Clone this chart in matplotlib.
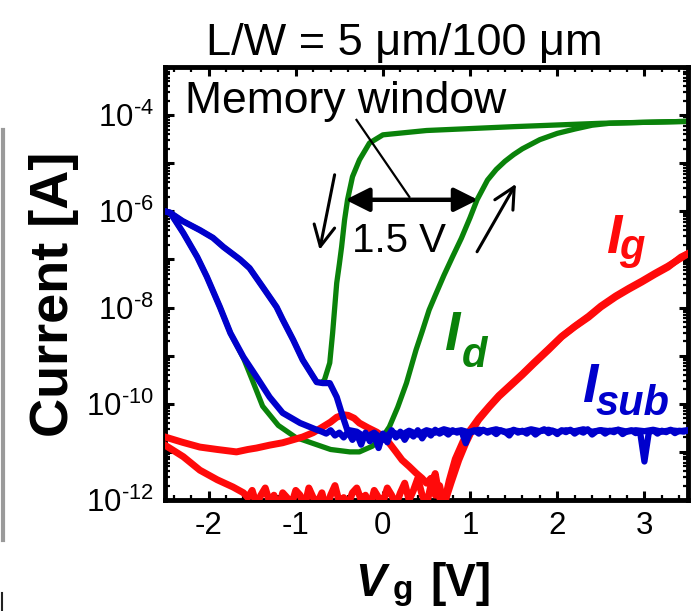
import numpy as np
import matplotlib
matplotlib.use('Agg')
import matplotlib.pyplot as plt
from matplotlib.ticker import FixedLocator, MultipleLocator, LogLocator, FuncFormatter, NullFormatter
from matplotlib.lines import Line2D

plt.rcParams['font.family'] = ['Liberation Sans', 'DejaVu Sans']
plt.rcParams['mathtext.fontset'] = 'custom'
plt.rcParams['mathtext.rm'] = 'Liberation Sans'
plt.rcParams['mathtext.it'] = 'Liberation Sans:italic'
plt.rcParams['mathtext.bf'] = 'Liberation Sans:bold'
plt.rcParams['axes.unicode_minus'] = False

# ---------------- data (log10 of current in A) ----------------
# Drain current, forward sweep (right branch)
vg_id_fwd = [-2.5, -2.44, -2.29, -2.13, -2.02, -1.87, -1.75, -1.6, -1.5, -1.38, -1.2, -1.0,
             -0.84, -0.6, -0.38, -0.27, -0.12, 0.0, 0.074, 0.17, 0.27, 0.38, 0.45, 0.53,
             0.6, 0.7, 0.8, 0.9, 1.0, 1.08, 1.2, 1.3, 1.4, 1.5, 1.6, 1.8, 2.0, 2.2, 2.4,
             2.6, 3.0, 3.5]
log_id_fwd = [-6.0, -6.03, -6.45, -6.95, -7.36, -7.99, -8.53, -9.05, -9.5, -10.05, -10.45, -10.7,
              -10.8, -10.95, -11.0, -11.0, -10.88, -10.68, -10.48, -10.07, -9.57, -8.88, -8.5, -8.05,
              -7.75, -7.33, -6.94, -6.56, -6.13, -5.76, -5.35, -5.13, -4.96, -4.82, -4.7, -4.51, -4.38,
              -4.29, -4.21, -4.17, -4.15, -4.13]

# Drain current, reverse sweep (left branch, down to the kink)
vg_id_rev = [3.5, 2.5, 1.5, 0.5, 0.0, -0.154, -0.269, -0.349, -0.406, -0.44, -0.474, -0.5,
             -0.53, -0.577, -0.61, -0.67, -0.7]
log_id_rev = [-4.13, -4.17, -4.24, -4.32, -4.41, -4.58, -4.93, -5.28, -5.76, -6.18, -6.74, -7.1,
              -7.49, -8.53, -9.15, -9.5, -9.56]

# Substrate current, upper branch (reverse)
vg_isub_rev = [-2.5, -2.44, -2.3, -2.1, -1.95, -1.83, -1.64, -1.53, -1.38, -1.22, -1.15, -1.03,
               -0.92, -0.76, -0.69, -0.61, -0.53, -0.46, -0.41,
               -0.3, -0.2, -0.1, 0.0, 0.1, 0.2, 0.3, 0.4, 0.5, 0.6, 0.7, 0.8, 0.9, 1.0, 1.1,
               1.2, 1.3, 1.4, 1.5, 1.6, 1.7, 1.8, 1.9, 2.0, 2.1, 2.2, 2.3, 2.4, 2.5, 2.6,
               2.7, 2.8, 2.9, 3.0, 3.1, 3.2, 3.3, 3.4, 3.5]
log_isub_rev = [-6.0, -6.03, -6.2, -6.39, -6.55, -6.74, -7.0, -7.18, -7.57, -7.99, -8.25, -8.67,
                -9.09, -9.55, -9.57, -9.57, -9.86, -10.27, -10.54,
                -10.58, -10.70, -10.60, -10.75, -10.58, -10.66, -10.56, -10.64, -10.55, -10.60,
                -10.53, -10.58, -10.55, -10.60, -10.54, -10.57, -10.53, -10.59, -10.55, -10.58,
                -10.53, -10.57, -10.54, -10.59, -10.55, -10.57, -10.53, -10.58, -10.55, -10.57,
                -10.54, -10.58, -10.55, -10.57, -10.54, -10.58, -10.55, -10.57, -10.55]

# Substrate current, lower branch (forward)
vg_isub_fwd = [-2.5, -2.44, -2.29, -2.13, -2.02, -1.87, -1.75, -1.6, -1.45, -1.3, -1.15, -0.95,
               -0.76,
               -0.70, -0.65, -0.60, -0.55, -0.50, -0.45, -0.40, -0.35, -0.30, -0.25, -0.20,
               -0.15, -0.10, -0.05, 0.00, 0.05, 0.10, 0.15, 0.20, 0.25, 0.30, 0.35, 0.40,
               0.45, 0.50, 0.55, 0.60, 0.65, 0.70, 0.75, 0.80, 0.85, 0.90, 0.95, 1.00, 1.05,
               1.10, 1.15, 1.20, 1.25, 1.30, 1.35, 1.40, 1.45, 1.50, 1.55, 1.60, 1.65, 1.70,
               1.75, 1.80, 1.85, 1.90, 1.95, 2.00, 2.05, 2.10, 2.15, 2.20, 2.25, 2.30, 2.35,
               2.40, 2.45, 2.50, 2.55, 2.60, 2.65, 2.70, 2.75, 2.80, 2.85, 2.90, 2.95, 3.00,
               3.05, 3.10, 3.15, 3.20, 3.25, 3.30, 3.35, 3.40, 3.45, 3.50]
log_isub_fwd = [-6.0, -6.03, -6.45, -6.95, -7.36, -7.99, -8.53, -9.03, -9.44, -9.86, -10.19, -10.4,
                -10.54,
                -10.58, -10.62, -10.55, -10.66, -10.60, -10.70, -10.58, -10.75, -10.62, -10.85,
                -10.60, -10.78, -10.65, -10.92, -10.62, -10.80, -10.55, -10.70, -10.58, -10.75,
                -10.60, -10.68, -10.55, -10.72, -10.58, -10.66, -10.54, -10.62, -10.57, -10.64,
                -10.55, -10.60, -10.56, -10.82, -10.58, -10.55, -10.62, -10.54, -10.60, -10.56,
                -10.63, -10.55, -10.58, -10.66, -10.54, -10.60, -10.56, -10.62, -10.55, -10.64,
                -10.57, -10.53, -10.61, -10.56, -10.63, -10.55, -10.59, -10.54, -10.62, -10.56,
                -10.60, -10.53, -10.64, -10.57, -10.55, -10.62, -10.56, -10.59, -10.54, -10.63,
                -10.57, -10.55, -10.61, -10.58, -11.20, -10.60, -10.55, -10.62, -10.56, -10.59,
                -10.54, -10.61, -10.56, -10.58, -10.55]

# Gate current, branch with the bump
vg_ig_a = [-2.5, -2.3, -2.1, -1.9, -1.68, -1.55, -1.45, -1.3, -1.15, -0.92, -0.8, -0.69, -0.6,
           -0.53, -0.45, -0.4, -0.33, -0.27, -0.17, -0.07, 0.0, 0.07, 0.15, 0.22, 0.30, 0.38,
           0.45, 0.50, 0.55, 0.60, 0.65, 0.70, 0.78, 0.87, 0.95, 1.02, 1.1, 1.22, 1.33, 1.45,
           1.6, 1.73, 1.9, 2.05, 2.2, 2.36, 2.5, 2.67, 2.82, 2.97, 3.12, 3.27, 3.42, 3.5]
log_ig_a = [-10.69, -10.80, -10.90, -10.95, -11.0, -10.95, -10.92, -10.86, -10.81, -10.69, -10.6,
            -10.48, -10.38, -10.28, -10.23, -10.24, -10.3, -10.4, -10.5, -10.59, -10.68, -10.81,
            -11.0, -11.17, -11.3, -11.44, -11.55, -11.65, -11.55, -11.9, -11.7, -12.1, -11.65,
            -11.17, -10.82, -10.56, -10.33, -10.07, -9.85, -9.65, -9.4, -9.17, -8.88, -8.61,
            -8.4, -8.2, -7.99, -7.78, -7.62, -7.47, -7.31, -7.16, -6.95, -6.88]

# Gate current, noisy lower branch
vg_ig_b = [-2.5, -2.29, -2.1, -1.9, -1.72,
           -1.60, -1.55, -1.50, -1.45, -1.40, -1.35, -1.30, -1.25, -1.20, -1.15, -1.10, -1.05,
           -1.00, -0.95, -0.90, -0.85, -0.80, -0.75, -0.70, -0.65, -0.60, -0.55, -0.50, -0.45,
           -0.40, -0.35, -0.30, -0.25, -0.20, -0.15, -0.10, -0.05, 0.00, 0.05, 0.10, 0.15,
           0.20, 0.25, 0.30, 0.35, 0.40, 0.45, 0.50, 0.55, 0.60, 0.65,
           0.70, 0.76, 0.83, 0.92, 1.0, 1.1, 1.22, 1.33, 1.45, 1.6, 1.73, 1.9, 2.05, 2.2,
           2.36, 2.5, 2.67, 2.82, 2.97, 3.12, 3.27, 3.5]
log_ig_b = [-10.86, -11.1, -11.38, -11.58, -11.73,
            -11.85, -11.95, -11.80, -12.10, -11.90, -11.75, -12.05, -11.90, -12.20, -11.85,
            -11.95, -12.10, -11.80, -11.90, -12.15, -11.75, -11.95, -12.05, -11.85, -12.20,
            -11.90, -11.70, -12.05, -11.95, -12.10, -11.85, -11.75, -12.00, -11.90, -12.15,
            -11.80, -11.95, -12.05, -11.75, -11.90, -12.10, -11.85, -11.65, -12.00, -11.80,
            -11.55, -11.90, -12.10, -11.70, -11.45, -11.95,
            -12.1, -11.6, -11.15, -10.78, -10.55, -10.3, -10.05, -9.83, -9.63, -9.38, -9.15,
            -8.86, -8.6, -8.39, -8.18, -7.97, -7.76, -7.6, -7.45, -7.29, -7.14, -6.88]

# ---------------- figure ----------------
W, H = 691, 611
fig = plt.figure(figsize=(W / 100, H / 100), dpi=100)
ax = fig.add_axes([165 / W, 1 - 500 / H, 523 / W, 433 / H])
ax.set_yscale('log')

GREEN = '#0a820a'
BLUE = '#0000cc'
RED = '#ff0a0a'

# green reverse continues along the upper substrate branch (hidden under blue)
k = vg_isub_rev.index(-0.76)
vg_id_rev_full = vg_id_rev + vg_isub_rev[:k + 1][::-1]
log_id_rev_full = log_id_rev + log_isub_rev[:k + 1][::-1]

ax.plot(vg_id_fwd, 10 ** np.array(log_id_fwd), color=GREEN, lw=3.8, zorder=2, solid_joinstyle='round')
ax.plot(vg_id_rev_full, 10 ** np.array(log_id_rev_full), color=GREEN, lw=3.8, zorder=2, solid_joinstyle='round')
ax.plot(vg_ig_a, 10 ** np.array(log_ig_a), color=RED, lw=5, zorder=3, solid_joinstyle='round')
ax.plot(vg_ig_b, 10 ** np.array(log_ig_b), color=RED, lw=5, zorder=3, solid_joinstyle='round')
ax.plot(vg_isub_rev, 10 ** np.array(log_isub_rev), color=BLUE, lw=4.5, zorder=4, solid_joinstyle='round')
ax.plot(vg_isub_fwd, 10 ** np.array(log_isub_fwd), color=BLUE, lw=4.5, zorder=4, solid_joinstyle='round')

ax.set_xlim(-2.5, 3.5)
ax.set_ylim(1e-12, 1e-3)

ax.xaxis.set_major_locator(MultipleLocator(1))
ax.xaxis.set_minor_locator(MultipleLocator(0.2))
ax.yaxis.set_major_locator(FixedLocator([10.0 ** e for e in range(-12, -2)]))
ax.yaxis.set_minor_locator(LogLocator(base=10, subs=np.arange(2, 10), numticks=30))
ax.yaxis.set_minor_formatter(NullFormatter())


def yfmt(v, pos):
    e = int(round(np.log10(v)))
    if e % 2 == 0 and e <= -4:
        return '$10^{\u2010%d}$' % (-e)
    return ''


ax.yaxis.set_major_formatter(FuncFormatter(yfmt))
ax.tick_params(which='both', direction='in', top=True, right=True)
ax.tick_params(which='major', length=6.5, width=2.2, labelsize=22.5, pad=8)
ax.tick_params(which='minor', length=3.5, width=1.6)
for s in ax.spines.values():
    s.set_linewidth(3.5)

# annotations
ax.text(-2.27, 10 ** -3.95, 'Memory window', fontsize=32, ha='left', va='baseline')
ax.plot([-0.303, 0.303], [10 ** -4.10, 10 ** -5.70], color='k', lw=1.6, zorder=5)
ax.annotate('', xy=(-0.43, 10 ** -5.76), xytext=(1.09, 10 ** -5.76),
            arrowprops=dict(arrowstyle='<|-|>', lw=3.2, color='k', mutation_scale=36,
                            shrinkA=0, shrinkB=0), zorder=6)
ax.text(-0.35, 10 ** -6.84, '1.5 V', fontsize=29, ha='left', va='baseline')
ax.annotate('', xy=(-0.726, 10 ** -6.80), xytext=(-0.554, 10 ** -5.24),
            arrowprops=dict(arrowstyle='->,head_length=0.5,head_width=0.25', lw=2.2, color='k',
                            mutation_scale=30, shrinkA=0, shrinkB=0))
ax.annotate('', xy=(1.526, 10 ** -5.43), xytext=(1.08, 10 ** -6.84),
            arrowprops=dict(arrowstyle='->,head_length=0.5,head_width=0.25', lw=2.2, color='k',
                            mutation_scale=30, shrinkA=0, shrinkB=0))

# curve labels
ax.text(0.70, 10 ** -8.88, 'I', color=GREEN, fontsize=40, fontweight='bold', fontstyle='italic',
        ha='left', va='baseline')
ax.text(0.91, 10 ** -9.23, 'd', color=GREEN, fontsize=30, fontweight='bold', fontstyle='italic',
        ha='left', va='baseline')
ax.text(2.555, 10 ** -6.86, 'I', color=RED, fontsize=40, fontweight='bold', fontstyle='italic',
        ha='left', va='baseline')
ax.text(2.71, 10 ** -6.99, 'g', color=RED, fontsize=30, fontweight='bold', fontstyle='italic',
        ha='left', va='baseline')
ax.text(2.28, 10 ** -9.96, 'I', color=BLUE, fontsize=40, fontweight='bold', fontstyle='italic',
        ha='left', va='baseline')
ax.text(2.44, 10 ** -10.23, 'sub', color=BLUE, fontsize=30, fontweight='bold', fontstyle='italic',
        ha='left', va='baseline')

# titles / axis labels
fig.text(404 / W, 1 - 55 / H, 'L/W = 5 μm/100 μm', ha='center', va='baseline', fontsize=32.5)
fig.text(54 / W, 1 - 294 / H, 'Current [A]', rotation=90, ha='center', va='center',
         fontsize=39, fontweight='bold')
fig.text(355 / W, 1 - 596 / H, 'V', ha='left', va='baseline', fontsize=33, fontweight='bold',
         fontstyle='italic')
fig.text(393 / W, 1 - 599 / H, 'g', ha='left', va='baseline', fontsize=24, fontweight='bold')
fig.text(430 / W, 1 - 596 / H, '[V]', ha='left', va='baseline', fontsize=33, fontweight='bold')

# scan artefacts at left border
fig.add_artist(Line2D([2.5 / W, 2.5 / W], [1 - 130 / H, 1 - 540 / H], color='#9a9a9a', lw=3,
                      transform=fig.transFigure))
fig.add_artist(Line2D([1.5 / W, 1.5 / W], [1 - 593 / H, 1 - 611 / H], color='#222222', lw=1.5,
                      transform=fig.transFigure))

fig.savefig('out.png', dpi=100)
